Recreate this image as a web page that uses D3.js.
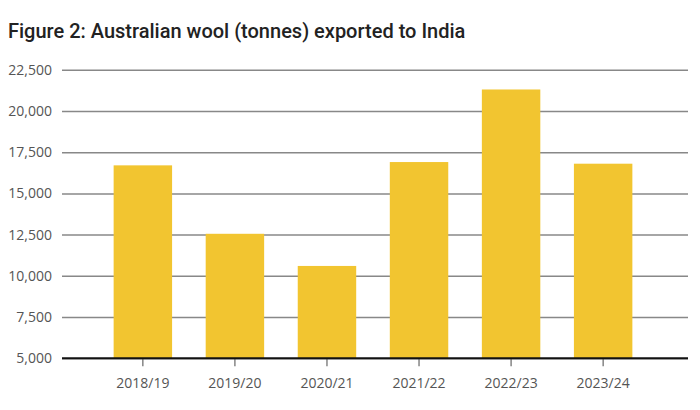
<!DOCTYPE html>
<html>
<head>
<meta charset="utf-8">
<script src="https://cdn.jsdelivr.net/npm/d3@7"></script>
<style>
  body { margin: 0; background: #fff; }
  svg { display: block; }
</style>
</head>
<body>
<svg></svg>
<script>
let years = ['2018/19', '2019/20', '2020/21', '2021/22', '2022/23', '2023/24'];
let tonnes = [16700, 12550, 10600, 16900, 21300, 16800];
let yTicks = [5000, 7500, 10000, 12500, 15000, 17500, 20000, 22500];

let width = 700;
let height = 410;

let svg = d3.select('svg')
    .attr('width', width)
    .attr('height', height);

let xScale = d3.scaleBand()
    .domain(years)
    .range([63, 683])
    .paddingInner(0.365)
    .paddingOuter(0.55);

let yScale = d3.scaleLinear()
    .domain([5000, 22500])
    .range([358.3, 69.7]);

// title
svg.append('text')
    .attr('x', 8)
    .attr('y', 38)
    .style('font-family', 'Roboto')
    .style('font-weight', 500)
    .style('font-size', '20px')
    .style('fill', '#222')
    .text('Figure 2: Australian wool (tonnes) exported to India');

// gridlines + y labels
let yAxis = d3.axisLeft(yScale)
    .tickValues(yTicks)
    .tickSize(-626)
    .tickPadding(10)
    .tickFormat(d3.format(','));

let yG = svg.append('g')
    .attr('transform', 'translate(62,0)')
    .call(yAxis);
yG.select('.domain').remove();
yG.selectAll('line')
    .attr('stroke', '#888')
    .attr('stroke-width', 1.5);
yG.selectAll('text')
    .style('font-family', 'Open Sans')
    .style('font-size', '14px')
    .style('fill', '#555');

// bars
svg.selectAll('rect.bar')
    .data(years)
    .enter()
    .append('rect')
    .attr('class', 'bar')
    .attr('x', (d) => xScale(d))
    .attr('width', xScale.bandwidth())
    .attr('y', (d, i) => yScale(tonnes[i]))
    .attr('height', (d, i) => yScale(5000) - yScale(tonnes[i]))
    .attr('fill', '#F2C530');

// x axis
let xAxis = d3.axisBottom(xScale)
    .tickSize(8)
    .tickSizeOuter(0)
    .tickPadding(12);

let xG = svg.append('g')
    .attr('transform', 'translate(0,' + yScale(5000) + ')')
    .call(xAxis);
xG.select('.domain').remove();
xG.selectAll('line')
    .attr('stroke', '#666')
    .attr('stroke-width', 1.2);
xG.selectAll('text')
    .style('font-family', 'Open Sans')
    .style('font-size', '14px')
    .style('fill', '#555');

svg.append('line')
    .attr('x1', 62)
    .attr('x2', 688)
    .attr('y1', yScale(5000))
    .attr('y2', yScale(5000))
    .attr('stroke', '#111')
    .attr('stroke-width', 2);
</script>
</body>
</html>
